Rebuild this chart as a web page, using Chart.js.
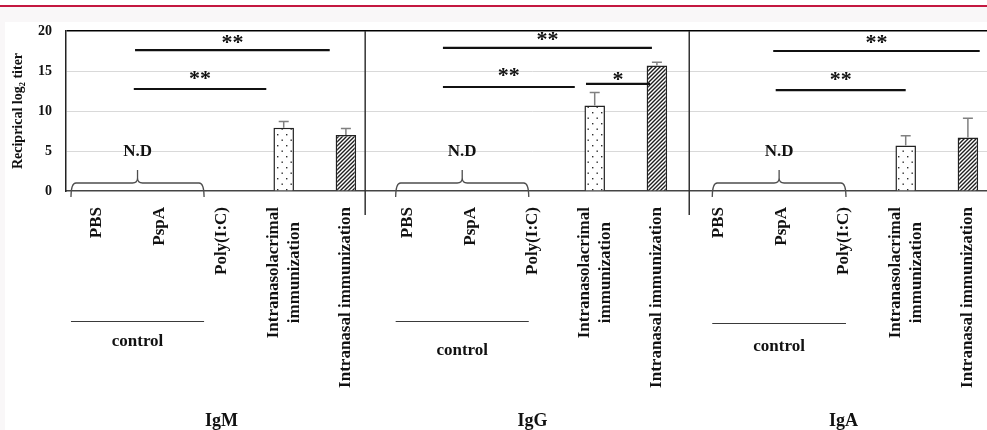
<!DOCTYPE html>
<html>
<head>
<meta charset="utf-8">
<title>Reciprocal log2 titer</title>
<script src="https://cdn.jsdelivr.net/npm/chart.js@4.4.0/dist/chart.umd.min.js"></script>
<style>
  html, body { margin: 0; padding: 0; }
  body { width: 987px; height: 430px; overflow: hidden; background: #fff; position: relative; }
  .stripe { position: absolute; left: 0; top: 5px; width: 987px; height: 2px; background: #c41740; }
  .band { position: absolute; left: 0; top: 7px; width: 987px; height: 423px; background: #f9f7f8; }
  #wrap { position: absolute; left: 5px; top: 22px; width: 1000px; height: 408px; background: #fff; }
  #titerChart { display: block; }
</style>
</head>
<body>
<div class="stripe"></div>
<div class="band"></div>
<div id="wrap"><canvas id="titerChart" width="1000" height="408"></canvas></div>
<script>
// antibody classes and the five treatment groups inside each class
const isotypes = ['IgM', 'IgG', 'IgA'];
const treatments = ['PBS', 'PspA', 'Poly(I:C)', ['Intranasolacrimal', 'immunization'], 'Intranasal immunization'];

// reciprocal log2 titer (mean and SD); the three control groups were N.D
const nasolacrimalTiter = [7.9, 10.7, 5.7];
const nasolacrimalSD = [0.8, 1.6, 1.2];
const nasalTiter = [7.0, 15.7, 6.7];
const nasalSD = [0.8, 0.4, 2.4];

const yTicks = [0, 5, 10, 15, 20];

// significance brackets (x in category index, y in titer units)
const sigMarks = [
  { from: 0.61, to: 3.74, y: 17.6, text: '**', lift: 12 },
  { from: 0.59, to: 2.72, y: 12.75, text: '**', lift: 15 },
  { from: 5.56, to: 8.92, y: 17.9, text: '**', lift: 12.5 },
  { from: 5.56, to: 7.68, y: 13.0, text: '**', lift: 16 },
  { from: 7.86, to: 8.89, y: 13.4, text: '*', lift: 8 },
  { from: 10.87, to: 14.19, y: 17.5, text: '**', lift: 13 },
  { from: 10.91, to: 13.0, y: 12.6, text: '**', lift: 14.5 }
];
// control groups: brace + N.D above, underline + "control" below the labels
const controlSpans = [
  { from: -0.42, to: 1.72, lineY: 130, textY: 151 },
  { from: 4.80, to: 6.94, lineY: 130, textY: 160 },
  { from: 9.89, to: 12.04, lineY: 132, textY: 156 }
];
const dividers = [4.31, 9.52];

const serif = '"Liberation Serif", "Times New Roman", serif';
const ctx = document.getElementById('titerChart').getContext('2d');

function makeDots() {
  const c = document.createElement('canvas');
  c.width = 9; c.height = 11;
  const g = c.getContext('2d');
  g.fillStyle = '#fff'; g.fillRect(0, 0, 9, 11);
  g.fillStyle = '#2b2b2b';
  g.fillRect(2, 2, 1.4, 1.4);
  g.fillRect(6.5, 7.5, 1.4, 1.4);
  return ctx.createPattern(c, 'repeat');
}

function makeHatch() {
  const c = document.createElement('canvas');
  c.width = 4; c.height = 4;
  const g = c.getContext('2d');
  g.fillStyle = '#fff'; g.fillRect(0, 0, 4, 4);
  g.strokeStyle = '#1e1e1e'; g.lineWidth = 1.4;
  g.beginPath();
  g.moveTo(-1, 5); g.lineTo(5, -1);
  g.moveTo(-1, 1); g.lineTo(1, -1);
  g.moveTo(3, 5); g.lineTo(5, 3);
  g.stroke();
  return ctx.createPattern(c, 'repeat');
}

const dots = makeDots();
const hatch = makeHatch();

// flatten the groups into one category axis
const labels = [], titers = [], sds = [], fills = [];
isotypes.forEach((iso, k) => {
  treatments.forEach((t, j) => {
    labels.push(t);
    if (j === 3) {
      titers.push(nasolacrimalTiter[k]); sds.push(nasolacrimalSD[k]); fills.push(dots);
    } else if (j === 4) {
      titers.push(nasalTiter[k]); sds.push(nasalSD[k]); fills.push(hatch);
    } else {
      titers.push(null); sds.push(null); fills.push(dots);
    }
  });
});

const overlay = {
  id: 'overlay',
  afterDatasetsDraw(chart) {
    const c = chart.ctx, y = chart.scales.y;
    const meta = chart.getDatasetMeta(0);
    c.save();
    c.strokeStyle = '#808080';
    c.lineWidth = 1.5;
    titers.forEach((v, i) => {
      if (v == null) return;
      const bx = meta.data[i].x;
      const top = y.getPixelForValue(v);
      const end = y.getPixelForValue(v + sds[i]);
      c.beginPath();
      c.moveTo(bx, top); c.lineTo(bx, end);
      c.moveTo(bx - 5, end); c.lineTo(bx + 5, end);
      c.stroke();
    });
    c.restore();
  },
  afterDraw(chart) {
    const c = chart.ctx, area = chart.chartArea;
    const x = chart.scales.x, y = chart.scales.y;
    c.save();

    // vertical lines between IgM / IgG / IgA
    c.strokeStyle = '#333';
    c.lineWidth = 1.5;
    dividers.forEach(d => {
      const px = x.getPixelForValue(d);
      c.beginPath();
      c.moveTo(px, area.top);
      c.lineTo(px, area.bottom + 24);
      c.stroke();
    });

    // braces over the control groups with N.D
    controlSpans.forEach(s => {
      const x1 = x.getPixelForValue(s.from), x2 = x.getPixelForValue(s.to);
      const xm = (x1 + x2) / 2;
      const yl = area.bottom - 8, ye = area.bottom + 6, yp = area.bottom - 21, r = 5;
      c.strokeStyle = '#4d4d4d';
      c.lineWidth = 1.3;
      c.beginPath();
      c.moveTo(x1, ye);
      c.quadraticCurveTo(x1, yl, x1 + r, yl);
      c.lineTo(xm - r, yl);
      c.quadraticCurveTo(xm, yl, xm, yl - r);
      c.lineTo(xm, yp);
      c.moveTo(xm, yl - r);
      c.quadraticCurveTo(xm, yl, xm + r, yl);
      c.lineTo(x2 - r, yl);
      c.quadraticCurveTo(x2, yl, x2, ye);
      c.stroke();

      c.fillStyle = '#111';
      c.font = 'bold 17px ' + serif;
      c.textAlign = 'center';
      c.textBaseline = 'middle';
      c.fillText('N.D', xm, area.bottom - 39);

      // underline and caption below the category labels
      const ly = Math.round(area.bottom + s.lineY) + 0.5;
      c.strokeStyle = '#3a3a3a';
      c.lineWidth = 1;
      c.beginPath();
      c.moveTo(x1, ly);
      c.lineTo(x2, ly);
      c.stroke();
      c.fillText('control', xm, area.bottom + s.textY);
    });

    // significance brackets
    sigMarks.forEach(m => {
      const x1 = x.getPixelForValue(m.from), x2 = x.getPixelForValue(m.to);
      const py = y.getPixelForValue(m.y);
      c.strokeStyle = '#111';
      c.lineWidth = 2.2;
      c.beginPath();
      c.moveTo(x1, py); c.lineTo(x2, py);
      c.stroke();
      c.fillStyle = '#111';
      c.font = 'bold 22px ' + serif;
      c.textAlign = 'center';
      c.textBaseline = 'alphabetic';
      c.fillText(m.text, (x1 + x2) / 2, py - m.lift + 10.5);
    });

    // rotated category labels, multi-line ones centred on each other
    c.font = 'bold 17px ' + serif;
    c.fillStyle = '#111';
    c.textAlign = 'right';
    c.textBaseline = 'middle';
    labels.forEach((lab, i) => {
      const lines = Array.isArray(lab) ? lab : [lab];
      const widths = lines.map(l => c.measureText(l).width);
      const w = Math.max(...widths);
      const px = x.getPixelForValue(i);
      c.save();
      c.translate(px, area.bottom + 16);
      c.rotate(-Math.PI / 2);
      lines.forEach((l, j) => {
        const off = (j - (lines.length - 1) / 2) * 21;
        c.fillText(l, -(w - widths[j]) / 2, off);
      });
      c.restore();
    });

    // antibody class under each block
    c.font = 'bold 18px ' + serif;
    c.textAlign = 'center';
    isotypes.forEach((iso, k) => {
      c.fillText(iso, x.getPixelForValue(k * 5 + 2), area.bottom + 230);
    });

    c.restore();
  }
};

new Chart(ctx, {
  type: 'bar',
  data: {
    labels: labels,
    datasets: [{
      data: titers,
      backgroundColor: fills,
      borderColor: '#222',
      borderWidth: 1.5,
      barPercentage: 0.33,
      categoryPercentage: 1
    }]
  },
  options: {
    responsive: false,
    animation: false,
    layout: { padding: { left: 0, right: 6, top: 9, bottom: 0 } },
    plugins: {
      legend: { display: false },
      tooltip: { enabled: false }
    },
    scales: {
      x: {
        offset: true,
        grid: { display: false, drawTicks: false },
        border: { display: true, color: '#444', width: 1.5 },
        ticks: { display: false },
        afterFit: s => { s.height = 239; s.paddingLeft = 0; s.paddingRight = 0; }
      },
      y: {
        min: yTicks[0],
        max: yTicks[yTicks.length - 1],
        afterBuildTicks: s => { s.ticks = yTicks.map(v => ({ value: v })); },
        grid: {
          drawTicks: false,
          color: c => c.tick.value === 20 ? '#000' : (c.tick.value === 0 ? 'rgba(0,0,0,0)' : '#d9d9d9'),
          lineWidth: c => c.tick.value === 20 ? 1.5 : 1
        },
        border: { display: true, color: '#222', width: 1.5 },
        ticks: {
          padding: 14,
          color: '#111',
          font: { family: serif, size: 14, weight: 'bold' }
        },
        title: {
          display: true,
          text: 'Reciprical log₂ titer',
          color: '#111',
          font: { family: serif, size: 14, weight: 'bold' },
          padding: { top: 5, bottom: 0 }
        },
        afterFit: s => { s.width = 61; s.paddingTop = 0; s.paddingBottom = 0; }
      }
    }
  },
  plugins: [overlay]
});
</script>
</body>
</html>
